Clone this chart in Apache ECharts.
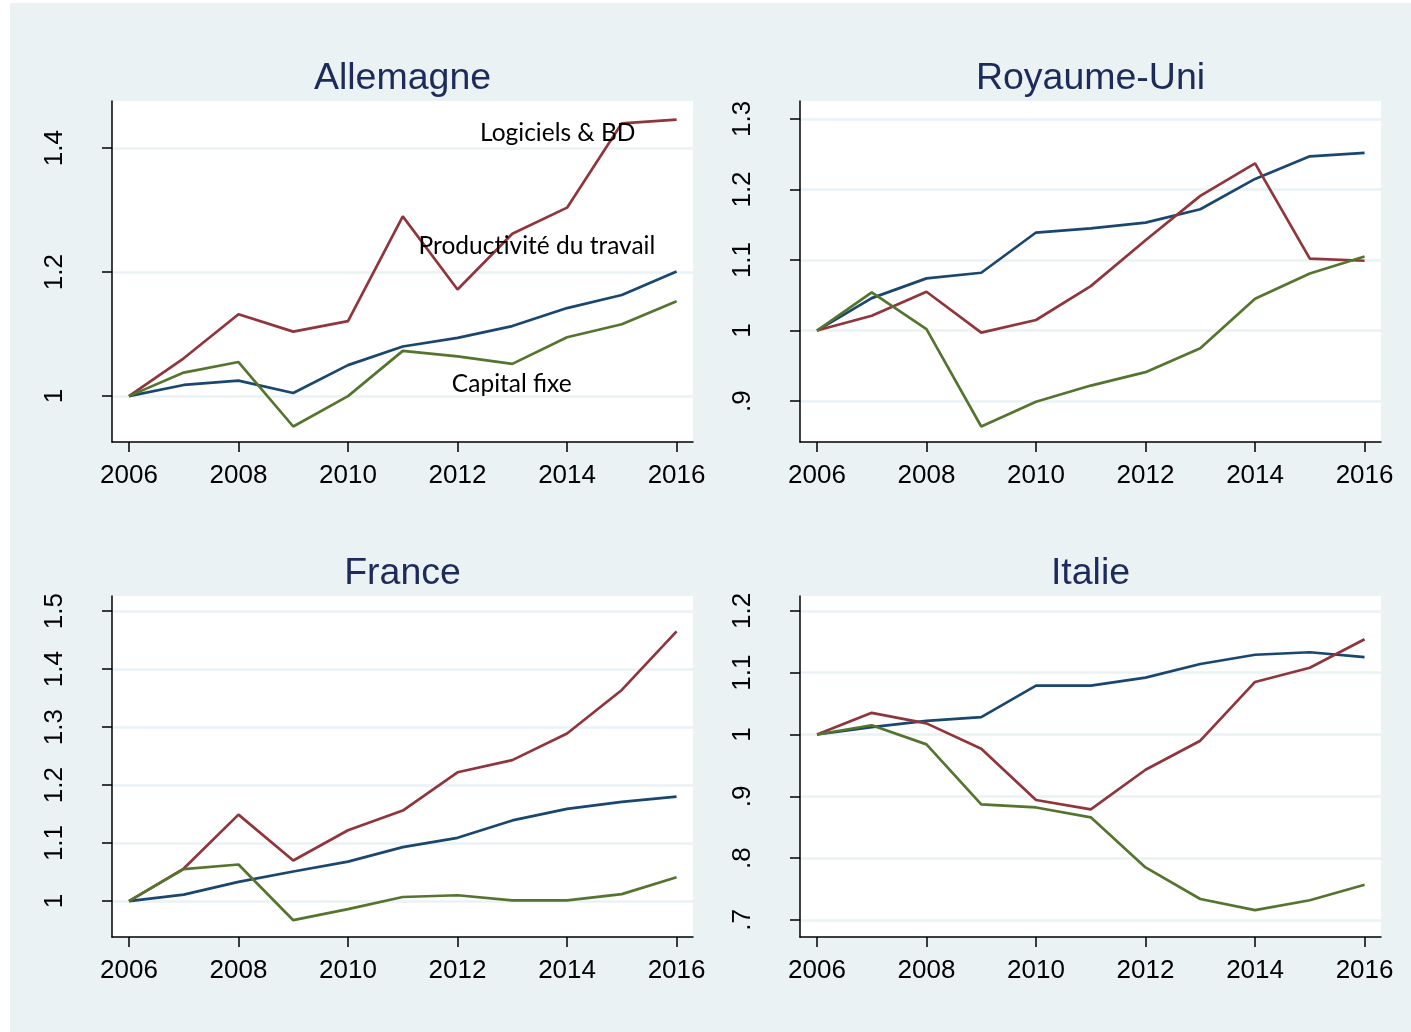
<!DOCTYPE html>
<html>
<head>
<meta charset="utf-8">
<script src="https://cdn.jsdelivr.net/npm/echarts@6/dist/echarts.min.js"></script>
<style>
  html, body { margin: 0; padding: 0; background: #fff; }
  #chart { width: 1411px; height: 1032px; }
</style>
</head>
<body>
<div id="chart"></div>
<script>
// années
const years = [2006, 2007, 2008, 2009, 2010, 2011, 2012, 2013, 2014, 2015, 2016];
const xTicks = [2006, 2008, 2010, 2012, 2014, 2016];

// Allemagne
const deProd = [1.000, 1.018, 1.025, 1.005, 1.050, 1.080, 1.094, 1.113, 1.142, 1.163, 1.201];
const deLog  = [1.000, 1.061, 1.132, 1.104, 1.121, 1.290, 1.172, 1.262, 1.304, 1.440, 1.446];
const deCap  = [1.000, 1.038, 1.055, 0.951, 1.000, 1.073, 1.064, 1.052, 1.095, 1.116, 1.153];

// Royaume-Uni
const ukProd = [1.000, 1.046, 1.074, 1.082, 1.139, 1.145, 1.153, 1.172, 1.215, 1.247, 1.252];
const ukLog  = [1.000, 1.021, 1.055, 0.997, 1.015, 1.063, 1.128, 1.191, 1.237, 1.102, 1.099];
const ukCap  = [1.000, 1.054, 1.002, 0.864, 0.899, 0.922, 0.941, 0.975, 1.045, 1.081, 1.105];

// France
const frProd = [1.000, 1.011, 1.033, 1.051, 1.068, 1.093, 1.109, 1.139, 1.159, 1.171, 1.180];
const frLog  = [1.000, 1.056, 1.149, 1.070, 1.122, 1.156, 1.222, 1.243, 1.289, 1.364, 1.465];
const frCap  = [1.000, 1.055, 1.063, 0.967, 0.986, 1.007, 1.010, 1.001, 1.001, 1.012, 1.041];

// Italie
const itProd = [1.000, 1.012, 1.022, 1.028, 1.079, 1.079, 1.092, 1.114, 1.129, 1.133, 1.125];
const itLog  = [1.000, 1.035, 1.018, 0.977, 0.894, 0.879, 0.943, 0.990, 1.085, 1.108, 1.154];
const itCap  = [1.000, 1.015, 0.984, 0.887, 0.882, 0.866, 0.785, 0.734, 0.716, 0.732, 0.757];

// graduations de l'axe Y par pays
const deTicks = [1, 1.2, 1.4];
const ukTicks = [0.9, 1, 1.1, 1.2, 1.3];
const frTicks = [1, 1.1, 1.2, 1.3, 1.4, 1.5];
const itTicks = [0.7, 0.8, 0.9, 1, 1.1, 1.2];

// étiquettes (Allemagne) : [année, valeur, texte]
const deNotes = [
    [2013.83, 1.424, 'Logiciels & BD'],
    [2013.45, 1.242, 'Productivité du travail'],
    [2012.99, 1.019, 'Capital fixe']
];

const panels = [
    { name: 'Allemagne',   prod: deProd, log: deLog, cap: deCap, ticks: deTicks, ymin: 0.926, ymax: 1.476, left: 112, top: 101 },
    { name: 'Royaume-Uni', prod: ukProd, log: ukLog, cap: ukCap, ticks: ukTicks, ymin: 0.842, ymax: 1.3255, left: 800, top: 101 },
    { name: 'France',      prod: frProd, log: frLog, cap: frCap, ticks: frTicks, ymin: 0.938, ymax: 1.526, left: 112, top: 596 },
    { name: 'Italie',      prod: itProd, log: itLog, cap: itCap, ticks: itTicks, ymin: 0.6725, ymax: 1.224, left: 800, top: 596 }
];

const W = 581, H = 341;
const navy = '#1A476F', maroon = '#90353B', green = '#55752F';
const bgColor = '#EAF2F3';
const axisFont = 'Liberation Sans, Arial, sans-serif';

function pairs(vals) {
    return years.map((y, i) => [y, vals[i]]);
}

// style Stata : ".9" au lieu de "0.9"
function stataLabel(v) {
    return String(+v.toFixed(2)).replace(/^0\./, '.');
}

const grid = [], xAxis = [], yAxis = [], series = [], title = [];

panels.forEach((p, i) => {
    grid.push({
        left: p.left, top: p.top, width: W, height: H,
        show: true, backgroundColor: '#fff', borderWidth: 0
    });
    title.push({
        text: p.name,
        left: p.left + W / 2,
        top: p.top - 41,
        textAlign: 'center',
        padding: 0,
        textStyle: { fontFamily: axisFont, fontSize: 37.5, fontWeight: 'normal', color: '#1C2B5A' }
    });
    xAxis.push({
        type: 'value', gridIndex: i,
        min: 2005.69, max: 2016.3,
        axisLine: { show: true, onZero: false, lineStyle: { color: '#000', width: 1.5 } },
        axisTick: { show: true, length: 10, customValues: xTicks, lineStyle: { color: '#000', width: 1.5 } },
        axisLabel: {
            customValues: xTicks, margin: 21, fontSize: 26, color: '#000', fontFamily: axisFont,
            formatter: v => String(v)
        },
        splitLine: { show: false }
    });
    yAxis.push({
        type: 'value', gridIndex: i,
        min: p.ymin, max: p.ymax,
        axisLine: { show: true, onZero: false, lineStyle: { color: '#000', width: 1.5 } },
        axisTick: { show: true, length: 10, customValues: p.ticks, lineStyle: { color: '#000', width: 1.5 } },
        axisLabel: {
            customValues: p.ticks, rotate: 90, margin: 44,
            fontSize: 26, color: '#000', fontFamily: axisFont,
            formatter: stataLabel
        },
        splitLine: { show: true, lineStyle: { color: bgColor, width: 2.5 } }
    });

    const common = { type: 'line', xAxisIndex: i, yAxisIndex: i, showSymbol: false, silent: true };
    series.push(Object.assign({}, common, { name: 'Productivité du travail', data: pairs(p.prod), lineStyle: { color: navy, width: 2.7 } }));
    series.push(Object.assign({}, common, { name: 'Logiciels & BD', data: pairs(p.log), lineStyle: { color: maroon, width: 2.7 } }));
    series.push(Object.assign({}, common, { name: 'Capital fixe', data: pairs(p.cap), lineStyle: { color: green, width: 2.7 } }));
});

// étiquettes du premier panneau
series[1].markPoint = {
    symbol: 'circle', symbolSize: 0, silent: true,
    label: { show: true, position: 'inside', color: '#000', fontSize: 24.5, fontFamily: 'Lato, sans-serif', formatter: d => d.name },
    data: deNotes.map(n => ({ name: n[2], coord: [n[0], n[1]] }))
};

const myChart = echarts.init(document.getElementById('chart'));
myChart.setOption({
    backgroundColor: '#fff',
    animation: false,
    graphic: [{
        type: 'rect', z: -10, silent: true,
        shape: { x: 10, y: 3, width: 1401, height: 1029 },
        style: { fill: bgColor }
    }],
    title: title,
    grid: grid,
    xAxis: xAxis,
    yAxis: yAxis,
    series: series
});
</script>
</body>
</html>
